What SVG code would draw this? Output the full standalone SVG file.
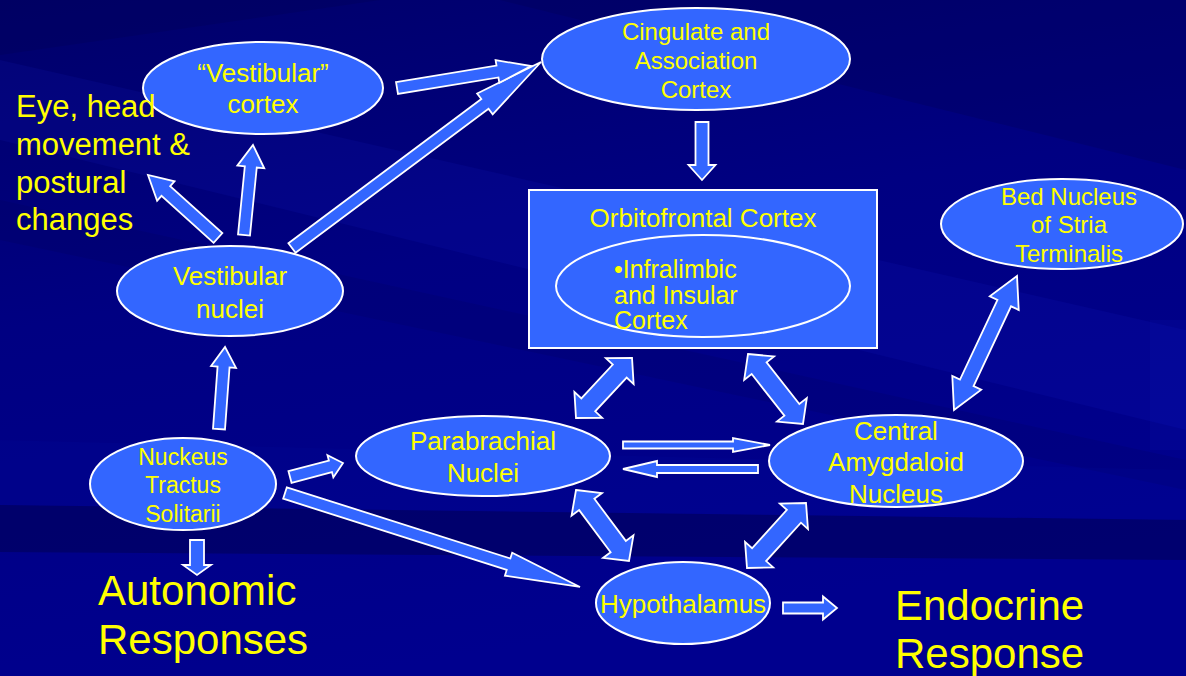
<svg xmlns="http://www.w3.org/2000/svg" width="1186" height="676" viewBox="0 0 1186 676">
  <defs>
    <linearGradient id="bg" x1="0" y1="0" x2="0.3" y2="1">
      <stop offset="0" stop-color="#00006a"/>
      <stop offset="0.45" stop-color="#000082"/>
      <stop offset="1" stop-color="#00008e"/>
    </linearGradient>
    <style>
      .node { fill: #3366ff; stroke: #ffffff; stroke-width: 2; }
      .ring { fill: none; stroke: #ffffff; stroke-width: 2; }
      .arr { fill: #3366ff; stroke: #ffffff; stroke-width: 1.8; stroke-linejoin: miter; }
      .t { font-family: "Liberation Sans", Arial, sans-serif; fill: #ffff00; }
      .n26 { font-size: 26px; text-anchor: middle; }
      .n24 { font-size: 24px; text-anchor: middle; }
      .n23 { font-size: 23px; text-anchor: middle; }
      .in { font-size: 25px; }
      .big { font-size: 42px; }
    </style>
  </defs>

  <g id="background">
    <rect width="1186" height="676" fill="url(#bg)"/>
    <polygon points="0,0 380,0 0,55" fill="#000050" opacity="0.25"/>
    <polygon points="0,60 1186,330 1186,430 0,140" fill="#2030ff" opacity="0.08"/>
    <polygon points="0,200 1186,460 1186,490 0,240" fill="#000040" opacity="0.12"/>
    <polygon points="500,0 1186,0 1186,170" fill="#000050" opacity="0.25"/>
    <polygon points="1150,320 1186,320 1186,450 1150,450" fill="#2a40ff" opacity="0.06"/>
    <polygon points="0,505 1186,520 1186,560 0,552" fill="#000040" opacity="0.4"/>
    <polygon points="0,440 1186,470 1186,520 0,505" fill="#0010a0" opacity="0.15"/>
  </g>

  <g id="connectors">
    <polygon class="arr" transform="translate(218,238) rotate(-138)" points="0,-6.5 70.2,-6.5 70.2,-13 94.2,0 70.2,13 70.2,6.5 0,6.5"/>
    <polygon class="arr" transform="translate(244,235) rotate(-84.3)" points="0,-6 68.4,-6 68.4,-13.5 90.4,0 68.4,13.5 68.4,6 0,6"/>
    <polygon class="arr" transform="translate(292,248) rotate(-36.76)" points="0,-6 240.8,-6 240.8,-13 310.8,0 240.8,13 240.8,6 0,6"/>
    <polygon class="arr" transform="translate(397,88) rotate(-9.32)" points="0,-6 101.8,-6 101.8,-11.5 135.8,0 101.8,11.5 101.8,6 0,6"/>
    <polygon class="arr" transform="translate(702,122) rotate(90)" points="0,-6.5 43,-6.5 43,-13.5 58,0 43,13.5 43,6.5 0,6.5"/>
    <polygon class="arr" transform="translate(219,429) rotate(-85.8)" points="0,-6 62.2,-6 62.2,-12.5 82.2,0 62.2,12.5 62.2,6 0,6"/>
    <polygon class="arr" transform="translate(197,540) rotate(90)" points="0,-7 25,-7 25,-14 35,0 25,14 25,7 0,7"/>
    <polygon class="arr" transform="translate(290,477) rotate(-14.8)" points="0,-6 41.8,-6 41.8,-11.5 54.8,0 41.8,11.5 41.8,6 0,6"/>
    <polygon class="arr" transform="translate(285,493) rotate(17.67)" points="0,-6 234.6,-6 234.6,-12 309.6,0 234.6,12 234.6,6 0,6"/>
    <polygon class="arr" transform="translate(623,445)" points="0,-3.5 110,-3.5 110,-7 147,0 110,7 110,3.5 0,3.5"/>
    <polygon class="arr" transform="translate(758,469) rotate(180)" points="0,-4 101,-4 101,-8 135,0 101,8 101,4 0,4"/>
    <polygon class="arr" transform="translate(783,608)" points="0,-5.5 40,-5.5 40,-11.5 54,0 40,11.5 40,5.5 0,5.5"/>
    <polygon class="arr" transform="translate(576,418) rotate(-46.97)" points="0,0 18,-19 18,-9.5 64.1,-9.5 64.1,-19 82.1,0 64.1,19 64.1,9.5 18,9.5 18,19"/>
    <polygon class="arr" transform="translate(748,354) rotate(51.84)" points="0,0 18,-19 18,-9.5 71,-9.5 71,-19 89,0 71,19 71,9.5 18,9.5 18,19"/>
    <polygon class="arr" transform="translate(576,490) rotate(53.26)" points="0,0 18,-19 18,-9.5 70.6,-9.5 70.6,-19 88.6,0 70.6,19 70.6,9.5 18,9.5 18,19"/>
    <polygon class="arr" transform="translate(747,568) rotate(-47.77)" points="0,0 18,-19 18,-9.5 69.8,-9.5 69.8,-19 87.8,0 69.8,19 69.8,9.5 18,9.5 18,19"/>
    <polygon class="arr" transform="translate(954,410) rotate(-64.82)" points="0,0 30,-16 30,-7.5 118.1,-7.5 118.1,-16 148.1,0 118.1,16 118.1,7.5 30,7.5 30,16"/>
  </g>

  <g id="vestibular-cortex">
    <ellipse class="node" cx="263" cy="88" rx="120" ry="46"/>
    <text class="t n26" x="263" y="82">“Vestibular”</text>
    <text class="t n26" x="263" y="113">cortex</text>
  </g>

  <g id="cingulate">
    <ellipse class="node" cx="696" cy="59" rx="154" ry="51"/>
    <text class="t n24" x="696" y="40">Cingulate and</text>
    <text class="t n24" x="696" y="69">Association</text>
    <text class="t n24" x="696" y="98">Cortex</text>
  </g>

  <g id="orbitofrontal">
    <rect class="node" x="529" y="190" width="348" height="158"/>
    <text class="t n26" x="703" y="227">Orbitofrontal Cortex</text>
    <ellipse class="ring" cx="703" cy="286" rx="147" ry="51"/>
    <text class="t in" x="614" y="278">•Infralimbic</text>
    <text class="t in" x="614" y="303.5">and Insular</text>
    <text class="t in" x="614" y="329">Cortex</text>
  </g>

  <g id="bed-nucleus">
    <ellipse class="node" cx="1062" cy="224" rx="121" ry="45"/>
    <text class="t n24" x="1069" y="205">Bed Nucleus</text>
    <text class="t n24" x="1069" y="233">of Stria</text>
    <text class="t n24" x="1069" y="262">Terminalis</text>
  </g>

  <g id="vestibular-nuclei">
    <ellipse class="node" cx="230" cy="291" rx="113" ry="45"/>
    <text class="t n26" x="230" y="285">Vestibular</text>
    <text class="t n26" x="230" y="318">nuclei</text>
  </g>

  <g id="parabrachial">
    <ellipse class="node" cx="483" cy="456" rx="127" ry="40"/>
    <text class="t n26" x="483" y="450">Parabrachial</text>
    <text class="t n26" x="483" y="482">Nuclei</text>
  </g>

  <g id="central-amygdaloid">
    <ellipse class="node" cx="896" cy="461" rx="127" ry="46"/>
    <text class="t n26" x="896" y="440">Central</text>
    <text class="t n26" x="896" y="471">Amygdaloid</text>
    <text class="t n26" x="896" y="503">Nucleus</text>
  </g>

  <g id="nts">
    <ellipse class="node" cx="183" cy="484" rx="93" ry="46"/>
    <text class="t n23" x="183" y="465">Nuckeus</text>
    <text class="t n23" x="183" y="493">Tractus</text>
    <text class="t n23" x="183" y="522">Solitarii</text>
  </g>

  <g id="hypothalamus">
    <ellipse class="node" cx="683" cy="603" rx="87" ry="41"/>
    <text class="t n26" x="683" y="613">Hypothalamus</text>
  </g>

  <g id="eye-head">
    <text class="t" font-size="31" x="16" y="117">Eye, head</text>
    <text class="t" font-size="31" x="16" y="155">movement &amp;</text>
    <text class="t" font-size="31" x="16" y="193">postural</text>
    <text class="t" font-size="31" x="16" y="230">changes</text>
  </g>

  <g id="autonomic">
    <text class="t big" x="98" y="605">Autonomic</text>
    <text class="t big" x="98" y="654">Responses</text>
  </g>

  <g id="endocrine">
    <text class="t big" x="895" y="620">Endocrine</text>
    <text class="t big" x="895" y="668">Response</text>
  </g>
</svg>
